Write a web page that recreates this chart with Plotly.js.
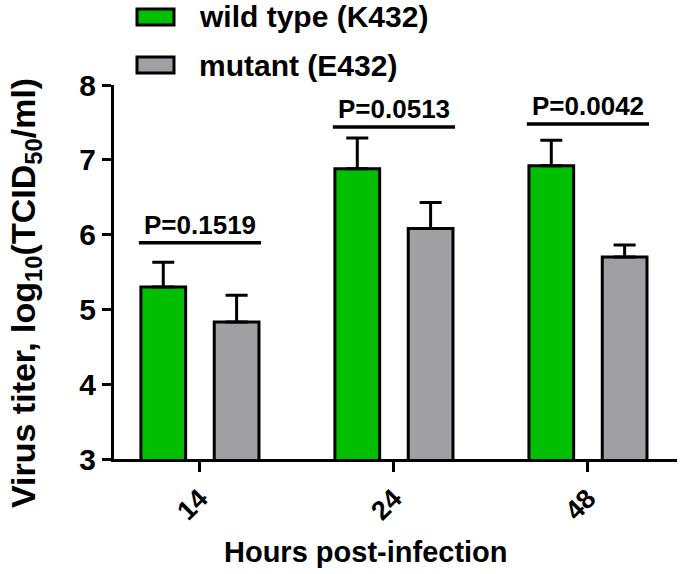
<!DOCTYPE html>
<html>
<head>
<meta charset="utf-8">
<script src="https://cdn.plot.ly/plotly-3.0.1.min.js"></script>
<style>html,body{margin:0;padding:0;background:#fff;}#chart{width:680px;height:574px;}</style>
</head>
<body>
<div id="chart"></div>
<script>
// ---- data ----
const categories = ["14", "24", "48"];
const seriesNames = ["wild type (K432)", "mutant (E432)"];
const wildMeans = [5.30, 6.88, 6.92];
const wildErr = [0.33, 0.41, 0.34];
const mutMeans = [4.83, 6.08, 5.70];
const mutErr = [0.36, 0.35, 0.16];
const pLabels = ["P=0.1519", "P=0.0513", "P=0.0042"];
const pLineY = [5.89, 7.44, 7.48];
const yTicks = [3, 4, 5, 6, 7, 8];
const xTitle = "Hours post-infection";
const yTitle = "Virus titer, log<sub>10</sub>(TCID<sub>50</sub>/ml)";

// ---- style ----
const FONT = "Arial, 'Liberation Sans', Helvetica, sans-serif";
const GREEN = "#00BF00";
const GRAY = "#A0A0A4";
const W = 680, H = 574;
const M = {l: 114, r: 3, t: 85, b: 115};
const pw = W - M.l - M.r, ph = H - M.t - M.b;
const px2x = p => (p - M.l) / pw;
const py2y = p => (H - M.b - p) / ph;

function barTrace(name, y, err, color) {
  return {
    type: "bar", name: name, x: categories, y: y,
    marker: {color: color, line: {color: "#000", width: 3}},
    error_y: {type: "data", array: err, arrayminus: err.map(() => 0), symmetric: false,
              color: "#000", thickness: 3, width: 11},
    hoverinfo: "skip"
  };
}

const traces = [
  barTrace(seriesNames[0], wildMeans, wildErr, GREEN),
  barTrace(seriesNames[1], mutMeans, mutErr, GRAY)
];

const shapes = [];
const annotations = [];
const half = 0.315;
categories.forEach((c, i) => {
  shapes.push({type: "line", xref: "x", yref: "y", x0: i - half, x1: i + half,
               y0: pLineY[i], y1: pLineY[i], line: {color: "#000", width: 3.5}});
  annotations.push({xref: "x", yref: "y", x: i, y: pLineY[i], text: "<b>" + pLabels[i] + "</b>",
                    showarrow: false, xanchor: "center", yanchor: "bottom", yshift: 1,
                    font: {family: FONT, size: 26, color: "#000"}});
});

// legend (drawn manually to match large boxes)
const legendColors = [GREEN, GRAY];
const legendY = [17, 65];
seriesNames.forEach((n, i) => {
  shapes.push({type: "rect", xref: "paper", yref: "paper",
               x0: px2x(137), x1: px2x(174), y0: py2y(legendY[i] + 8), y1: py2y(legendY[i] - 8),
               fillcolor: legendColors[i], line: {color: "#000", width: 3}});
  annotations.push({xref: "paper", yref: "paper", x: px2x(197), y: py2y(legendY[i]),
                    text: "<b>" + n + "</b>", showarrow: false, xanchor: "left", yanchor: "middle",
                    font: {family: FONT, size: 30, color: "#000"}});
});

// axis titles
annotations.push({xref: "paper", yref: "paper", x: px2x(366), y: py2y(552),
                  text: "<b>" + xTitle + "</b>", showarrow: false, xanchor: "center", yanchor: "middle",
                  font: {family: FONT, size: 29, color: "#000"}});
annotations.push({xref: "paper", yref: "paper", x: px2x(25), y: py2y(293),
                  text: "<b>" + yTitle + "</b>", showarrow: false, xanchor: "center", yanchor: "middle",
                  textangle: -90, font: {family: FONT, size: 34, color: "#000"}});

const layout = {
  width: W, height: H,
  margin: M,
  paper_bgcolor: "#fff", plot_bgcolor: "#fff",
  showlegend: false,
  barmode: "group", bargap: 0.244, bargroupgap: 0.39,
  font: {family: FONT, color: "#000"},
  xaxis: {
    type: "category", range: [-0.443, 2.459], showgrid: false, zeroline: false,
    showline: true, linecolor: "#000", linewidth: 3,
    ticks: "outside", ticklen: 10, tickwidth: 3, tickcolor: "#000",
    tickangle: -45, tickfont: {family: FONT, size: 27, weight: "bold", color: "#000"},
    automargin: false, fixedrange: true
  },
  yaxis: {
    range: [3, 8], tickvals: yTicks, showgrid: false, zeroline: false,
    showline: true, linecolor: "#000", linewidth: 3,
    ticks: "outside", ticklen: 9, tickwidth: 3, tickcolor: "#000",
    tickfont: {family: FONT, size: 30, weight: "bold", color: "#000"},
    automargin: false, fixedrange: true
  },
  shapes: shapes,
  annotations: annotations
};

Plotly.newPlot("chart", traces, layout, {displayModeBar: false, staticPlot: true});
</script>
</body>
</html>
